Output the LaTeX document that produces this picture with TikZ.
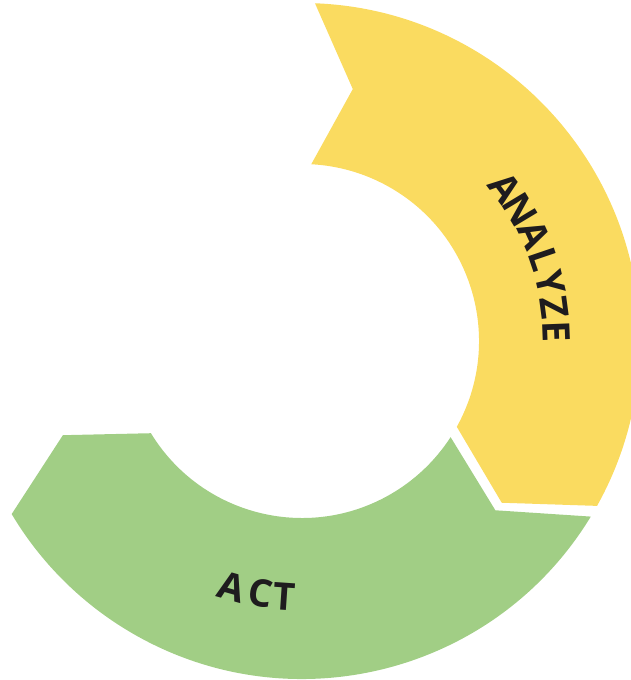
\documentclass[tikz,border=0pt]{standalone}
\usepackage{fontspec}
\setmainfont{Open Sans}
\definecolor{yel}{RGB}{250,219,96}
\definecolor{grn}{RGB}{161,206,133}
\definecolor{ink}{RGB}{30,28,30}
\begin{document}
\begin{tikzpicture}[x=1pt,y=1pt,
  lettr/.style={font=\fontsize{38}{38}\selectfont\bfseries, text=ink, inner sep=0pt, anchor=center}]
\useasboundingbox (-302pt,-339pt) rectangle (329pt,341pt);
\clip (-302pt,-339pt) rectangle (329pt,341pt);
% yellow segment (ANALYZE)
\fill[yel] (87.8:338pt) arc[start angle=87.8, end angle=-29.2, radius=338pt]
  -- (-39:257pt) -- (-29:177pt) arc[start angle=-29, end angle=87, radius=177pt]
  -- (78.6:257pt) -- cycle;
% green segment (ACT)
\fill[grn] (-31.3:338pt) arc[start angle=-31.3, end angle=-149.2, radius=338pt]
  -- (-158.5:257pt) -- (-148.6:177pt) arc[start angle=-148.6, end angle=-32.9, radius=177pt]
  -- (-41.2:257pt) -- cycle;
% ANALYZE
\foreach \ch/\ang [count=\i] in {A/37.0, N/31.0, A/24.6, L/18.8, Y/13.2, Z/7.6, E/2.2}
  \node[lettr, rotate=\ang-90] (an\i) at (\ang:255pt) {\ch};
% ACT
\foreach \ch/\ang [count=\i] in {A/254.2, C/260.6, T/266.1}
  \node[lettr, rotate=\ang+90] (ac\i) at (\ang:256pt) {\ch};
\end{tikzpicture}
\end{document}
